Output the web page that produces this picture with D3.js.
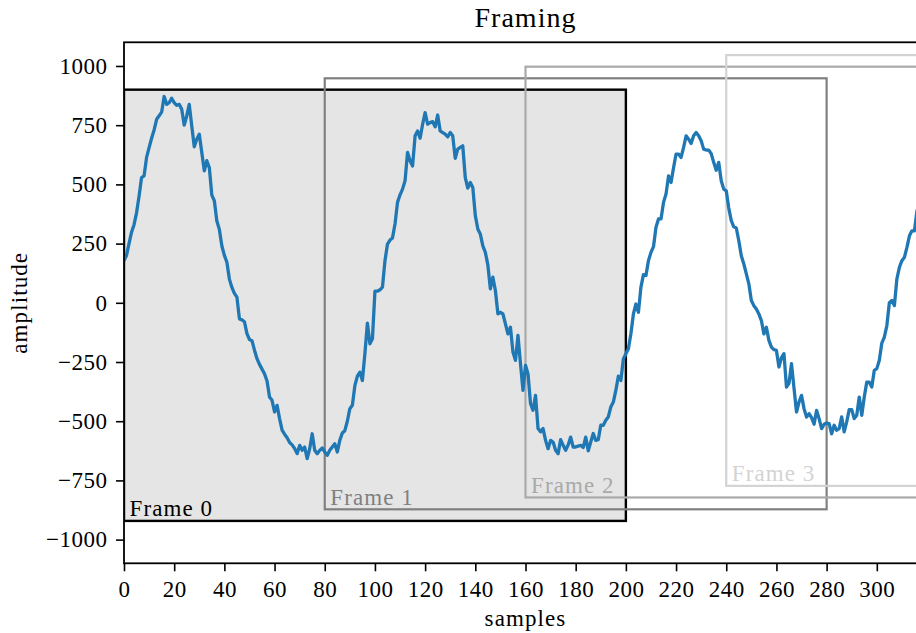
<!DOCTYPE html>
<html>
<head>
<meta charset="utf-8">
<script src="https://cdn.jsdelivr.net/npm/d3@7"></script>
<style>
  html, body { margin: 0; padding: 0; background: #fff; }
  svg { display: block; }
  text { font-family: "Liberation Serif", "DejaVu Serif", serif; fill: #000; }
</style>
</head>
<body>
<script>
// Signal amplitude per sample (index = sample number)
const amplitude = [
  178, 200, 250, 298, 330, 380, 450, 529, 536, 614,
  655, 695, 730, 775, 790, 805, 871, 838, 845, 864,
  845, 834, 838, 817, 750, 789, 838, 747, 659, 691,
  712, 635, 557, 600, 571, 455, 431, 345, 310, 240,
  200, 171, 100, 65, 40, 24, -68, -72, -80, -130,
  -155, -160, -200, -236, -260, -280, -300, -330, -398, -412,
  -461, -433, -489, -538, -555, -570, -590, -600, -615, -637,
  -602, -623, -609, -658, -616, -553, -623, -637, -623, -613,
  -630, -644, -623, -609, -595, -630, -581, -550, -540, -500,
  -447, -433, -350, -310, -293, -328, -215, -86, -173, -152,
  49, 49, 55, 66, 178, 248, 265, 274, 333, 424,
  456, 480, 515, 635, 600, 578, 705, 726, 695, 754,
  803, 754, 761, 765, 743, 793, 726, 719, 712, 701,
  719, 705, 610, 649, 656, 663, 529, 484, 508, 487,
  368, 312, 290, 240, 213, 160, 59, 108, 52, -47,
  -40, -47, -89, -131, -103, -208, -243, -138, -257, -370,
  -264, -300, -426, -454, -391, -531, -545, -531, -581, -616,
  -581, -588, -623, -637, -578, -602, -623, -600, -567, -609,
  -609, -605, -602, -611, -567, -625, -588, -552, -581, -578,
  -517, -517, -496, -482, -440, -419, -370, -310, -328, -237,
  -215, -194, -131, -47, -5, -40, 66, 119, 115, 178,
  213, 237, 319, 354, 354, 424, 459, 536, 508, 570,
  628, 628, 614, 656, 705, 691, 673, 705, 719, 705,
  684, 649, 645, 645, 630, 593, 560, 593, 515, 480,
  473, 400, 347, 321, 316, 262, 199, 164, 122, 80,
  10, -12, -26, -47, -75, -131, -103, -159, -187, -198,
  -201, -271, -232, -215, -356, -340, -257, -360, -461, -419,
  -391, -447, -482, -468, -485, -513, -454, -489, -531, -513,
  -508, -510, -553, -517, -538, -531, -482, -545, -503, -451,
  -451, -489, -475, -398, -475, -398, -335, -335, -356, -285,
  -278, -243, -170, -145, -96, 0, 10, -12, 101, 150,
  178, 192, 234, 283, 304, 304, 389, 420
];

// Analysis frames: start sample, end sample, lower / upper box bound
const frameNames  = ["Frame 0", "Frame 1", "Frame 2", "Frame 3"];
const frameStart  = [0, 80, 160, 240];
const frameEnd    = [200, 280, 360, 440];
const frameLow    = [-921, -872, -822, -773];
const frameHigh   = [900, 948, 997, 1046];
const frameStroke = ["#000000", "#808080", "#a9a9a9", "#d3d3d3"];

const xTicks = [0, 20, 40, 60, 80, 100, 120, 140, 160, 180, 200, 220, 240, 260, 280, 300];
const yTicks = [-1000, -750, -500, -250, 0, 250, 500, 750, 1000];
const xDomain = [0, 320];
const yDomain = [-1100, 1100];

const W = 916, H = 633;
const plot = { left: 124, right: 927, top: 42.3, bottom: 563.3 };
const fontSize = 23;
const labelSpacing = "1.1px";

const svg = d3.select("body").append("svg")
  .attr("width", W).attr("height", H)
  .attr("viewBox", `0 0 ${W} ${H}`);

const x = d3.scaleLinear().domain(xDomain).range([plot.left, plot.right]);
const y = d3.scaleLinear().domain(yDomain).range([plot.bottom, plot.top]);

svg.append("defs").append("clipPath").attr("id", "plot-clip")
  .append("rect")
  .attr("x", plot.left).attr("y", plot.top)
  .attr("width", plot.right - plot.left).attr("height", plot.bottom - plot.top);

const frames = frameNames.map((name, i) => ({
  name, start: frameStart[i], end: frameEnd[i],
  low: frameLow[i], high: frameHigh[i], stroke: frameStroke[i], index: i
}));

const inner = svg.append("g").attr("clip-path", "url(#plot-clip)");

// frame boxes (the first one is shaded)
inner.selectAll("rect.frame").data(frames).join("rect")
  .attr("class", "frame")
  .attr("x", d => x(d.start))
  .attr("y", d => y(d.high))
  .attr("width", d => x(d.end) - x(d.start))
  .attr("height", d => y(d.low) - y(d.high))
  .attr("fill", d => d.index === 0 ? "#e5e5e5" : "none")
  .attr("stroke", d => d.stroke)
  .attr("stroke-width", d => d.index === 0 ? 2.4 : 2.2);

// the signal
const line = d3.line().x((d, i) => x(i)).y(d => y(d));
inner.append("path")
  .datum(amplitude)
  .attr("d", line)
  .attr("fill", "none")
  .attr("stroke", "#1f77b4")
  .attr("stroke-width", 3.3)
  .attr("stroke-linejoin", "round")
  .attr("stroke-linecap", "square");

// frame labels in the lower-left corner of each box
inner.selectAll("text.frame-label").data(frames).join("text")
  .attr("class", "frame-label")
  .attr("x", d => x(d.start) + 5.5)
  .attr("y", d => y(d.low) - 4.7)
  .style("font-size", fontSize + "px")
  .style("letter-spacing", labelSpacing)
  .style("fill", d => d.stroke)
  .text(d => d.name);

// axes
const fmt = d3.format("d");
const xAxis = svg.append("g")
  .attr("transform", `translate(0,${plot.bottom})`)
  .call(d3.axisBottom(x).tickValues(xTicks).tickFormat(fmt).tickSize(8).tickPadding(9));
const yAxis = svg.append("g")
  .attr("transform", `translate(${plot.left},0)`)
  .call(d3.axisLeft(y).tickValues(yTicks).tickFormat(fmt).tickSize(8).tickPadding(8.5));

[xAxis, yAxis].forEach(g => {
  g.select(".domain").remove();
  g.selectAll(".tick line").attr("stroke", "#000").attr("stroke-width", 1.6);
  g.selectAll(".tick text")
    .style("font-size", fontSize + "px")
    .style("font-family", '"Liberation Serif", "DejaVu Serif", serif')
    .style("letter-spacing", "0.5px")
    .attr("fill", "#000");
});

// spines (right spine falls outside the visible canvas)
svg.append("rect")
  .attr("x", plot.left).attr("y", plot.top)
  .attr("width", plot.right - plot.left).attr("height", plot.bottom - plot.top)
  .attr("fill", "none").attr("stroke", "#000").attr("stroke-width", 1.8);

// titles
svg.append("text")
  .attr("x", (plot.left + plot.right) / 2).attr("y", 27)
  .attr("text-anchor", "middle")
  .style("font-size", "28px")
  .style("letter-spacing", "1px")
  .text("Framing");

svg.append("text")
  .attr("x", (plot.left + plot.right) / 2).attr("y", 626)
  .attr("text-anchor", "middle")
  .style("font-size", fontSize + "px")
  .style("letter-spacing", labelSpacing)
  .text("samples");

svg.append("text")
  .attr("transform", `translate(27,${(plot.top + plot.bottom) / 2}) rotate(-90)`)
  .attr("text-anchor", "middle")
  .style("font-size", fontSize + "px")
  .style("letter-spacing", labelSpacing)
  .text("amplitude");
</script>
</body>
</html>
